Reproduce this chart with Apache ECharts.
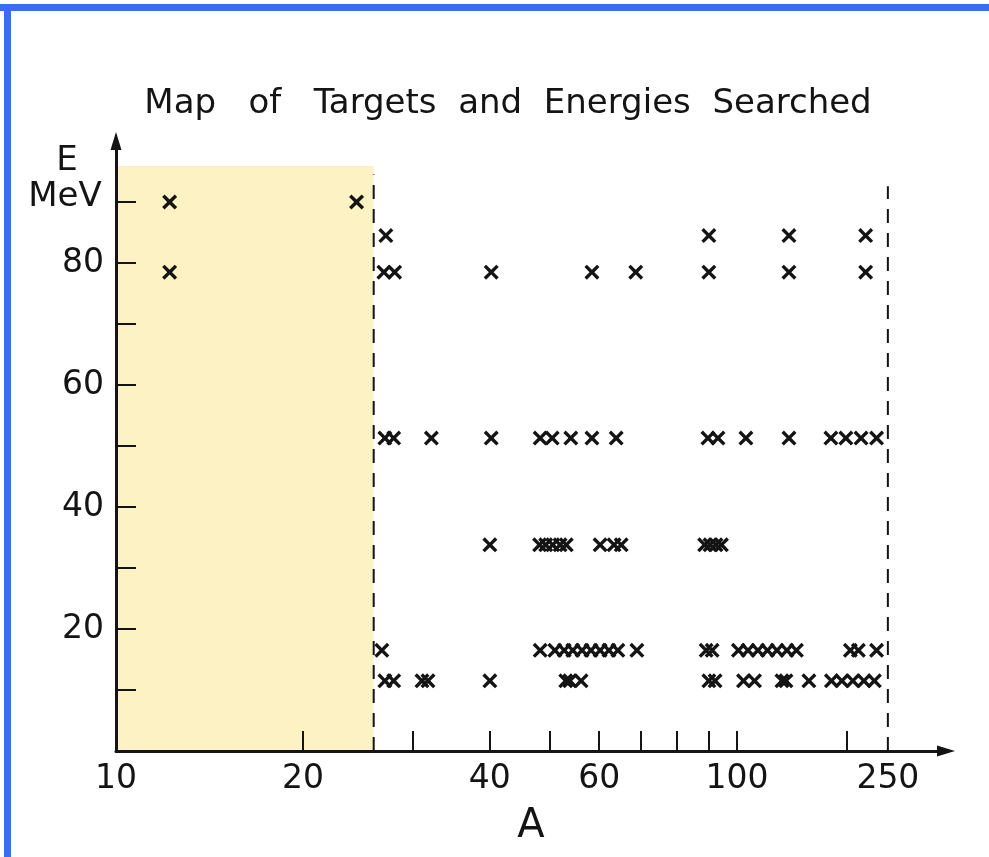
<!DOCTYPE html>
<html>
<head>
<meta charset="utf-8">
<script src="https://cdn.jsdelivr.net/npm/echarts@6/dist/echarts.min.js"></script>
<style>
  html, body { margin: 0; padding: 0; background: #fff; }
  #chart { width: 989px; height: 857px; }
</style>
</head>
<body>
<div id="chart"></div>
<script>
// Beam energies (MeV) at which targets were examined
const energyLevels = [90, 84.5, 78.5, 51.3, 33.8, 16.5, 11.5];

// Mass numbers A of the targets examined at each energy
const targetsAt90 = [12.2, 24.4];
const targetsAt84 = [27.2, 90.1, 138.8, 221.5];
const targetsAt78 = [12.2, 27.0, 28.1, 40.2, 58.4, 68.7, 90.1, 138.8, 221.5];
const targetsAt51 = [27.1, 28.0, 32.2, 40.2, 48.2, 50.4, 54.0, 58.4, 63.9, 89.8, 93.2, 105.8, 138.8, 180.8, 198.7, 216.0, 235.1];
const targetsAt34 = [40.0, 48.1, 49.2, 50.5, 51.9, 53.1, 60.2, 63.4, 65.1, 88.7, 90.5, 92.5, 94.4];
const targetsAt17 = [26.8, 48.2, 50.9, 52.7, 54.4, 56.3, 58.2, 60.2, 62.2, 64.3, 69.0, 89.2, 91.2, 100.9, 107.2, 114.1, 121.2, 128.7, 137.0, 145.5, 203.8, 212.9, 235.1];
const targetsAt12 = [27.1, 28.0, 31.1, 31.8, 40.0, 53.0, 53.8, 56.1, 90.1, 92.2, 104.2, 111.7, 132.8, 136.2, 157.4, 181.4, 193.8, 206.6, 219.4, 232.3];

// Axis ticks and labels
const massTicks = [20, 30, 40, 50, 60, 70, 80, 90, 100, 200];
const massLabels = [10, 20, 40, 60, 100, 250];
const energyTicks = [10, 20, 30, 40, 50, 60, 70, 80, 90];
const energyLabels = [20, 40, 60, 80];

// Shaded light-target region and the dashed limits of the search
const lightRegionA = [10, 26];
const lightRegionTopE = 95.9;
const limitA = [26, 250];
const limitTopE = [94.5, 92.6];

// Mass axis: logarithmic up to A = 100, compressed above it
const scaleA = [10, 100, 200, 250];
const scaleP = [1, 2, 2.177, 2.243];
const axisEndP = 2.3366;

function massPos(a) {
  let i = 0;
  while (i < scaleA.length - 2 && a > scaleA[i + 1]) i++;
  const l0 = Math.log10(scaleA[i]);
  const l1 = Math.log10(scaleA[i + 1]);
  return scaleP[i] + (Math.log10(a) - l0) / (l1 - l0) * (scaleP[i + 1] - scaleP[i]);
}

function massLabel(p) {
  let best = massLabels[0];
  let bestD = Infinity;
  massLabels.forEach(function (a) {
    const d = Math.abs(massPos(a) - p);
    if (d < bestD) { bestD = d; best = a; }
  });
  return String(best);
}

const rows = [targetsAt90, targetsAt84, targetsAt78, targetsAt51, targetsAt34, targetsAt17, targetsAt12];
const points = [];
rows.forEach(function (row, k) {
  row.forEach(function (a) { points.push([massPos(a), energyLevels[k]]); });
});

const INK = '#141414';
const FONT = 'DejaVu Sans';
const CROSS = 'path://M0,3.2L3.2,0L10,6.8L16.8,0L20,3.2L13.2,10L20,16.8L16.8,20L10,13.2L3.2,20L0,16.8L6.8,10Z';

const chart = echarts.init(document.getElementById('chart'), null, { renderer: 'canvas' });

const limitSeries = limitA.map(function (a, i) {
  return {
    type: 'line',
    silent: true,
    symbol: 'none',
    z: 2,
    lineStyle: { color: INK, width: 2, type: [14, 10] },
    data: [[massPos(a), 0], [massPos(a), limitTopE[i]]]
  };
});

chart.setOption({
  animation: false,
  backgroundColor: '#ffffff',
  grid: { left: 116, right: 43, top: 141, bottom: 106, containLabel: false, outerBoundsMode: 'none' },
  graphic: [
    { type: 'rect', shape: { x: 0, y: 4, width: 989, height: 7 }, style: { fill: '#3b6cf4' } },
    { type: 'rect', shape: { x: 4, y: 4, width: 7, height: 853 }, style: { fill: '#3b6cf4' } },
    {
      type: 'text', x: 508, y: 104,
      style: { text: 'Map   of   Targets  and  Energies  Searched', fill: INK, font: '34px "DejaVu Sans"', textAlign: 'center', textVerticalAlign: 'middle' }
    },
    {
      type: 'text', x: 67, y: 161,
      style: { text: 'E', fill: INK, font: '34px "DejaVu Sans"', textAlign: 'center', textVerticalAlign: 'middle' }
    },
    {
      type: 'text', x: 65, y: 197,
      style: { text: 'MeV', fill: INK, font: '34px "DejaVu Sans"', textAlign: 'center', textVerticalAlign: 'middle' }
    }
  ],
  xAxis: {
    type: 'value',
    z: 5,
    min: massPos(10),
    max: axisEndP,
    name: 'A',
    nameLocation: 'middle',
    nameGap: 56,
    nameTextStyle: { color: INK, fontFamily: FONT, fontSize: 40 },
    splitLine: { show: false },
    axisLine: {
      show: true,
      symbol: ['none', 'triangle'],
      symbolSize: [11, 18],
      lineStyle: { color: INK, width: 3 }
    },
    axisTick: {
      show: true,
      inside: true,
      length: 20,
      customValues: massTicks.map(massPos),
      lineStyle: { color: INK, width: 2 }
    },
    axisLabel: {
      show: true,
      margin: 12,
      customValues: massLabels.map(massPos),
      formatter: massLabel,
      color: INK,
      fontFamily: FONT,
      fontSize: 33
    }
  },
  yAxis: {
    type: 'value',
    z: 5,
    min: 0,
    max: 100,
    splitLine: { show: false },
    axisLine: {
      show: true,
      symbol: ['none', 'triangle'],
      symbolSize: [11, 18],
      lineStyle: { color: INK, width: 3 }
    },
    axisTick: {
      show: true,
      inside: true,
      length: 20,
      customValues: energyTicks,
      lineStyle: { color: INK, width: 2 }
    },
    axisLabel: {
      show: true,
      margin: 12,
      customValues: energyLabels,
      color: INK,
      fontFamily: FONT,
      fontSize: 33
    }
  },
  series: [
    {
      type: 'line',
      silent: true,
      symbol: 'none',
      z: 1,
      data: [],
      markArea: {
        silent: true,
        itemStyle: { color: '#fcf2c4' },
        data: [[
          { coord: [massPos(lightRegionA[0]), 0] },
          { coord: [massPos(lightRegionA[1]), lightRegionTopE] }
        ]]
      }
    }
  ].concat(limitSeries, [
    {
      type: 'scatter',
      name: 'targets',
      symbol: CROSS,
      symbolSize: 15,
      z: 3,
      itemStyle: { color: INK, opacity: 1 },
      data: points
    }
  ])
});
</script>
</body>
</html>
